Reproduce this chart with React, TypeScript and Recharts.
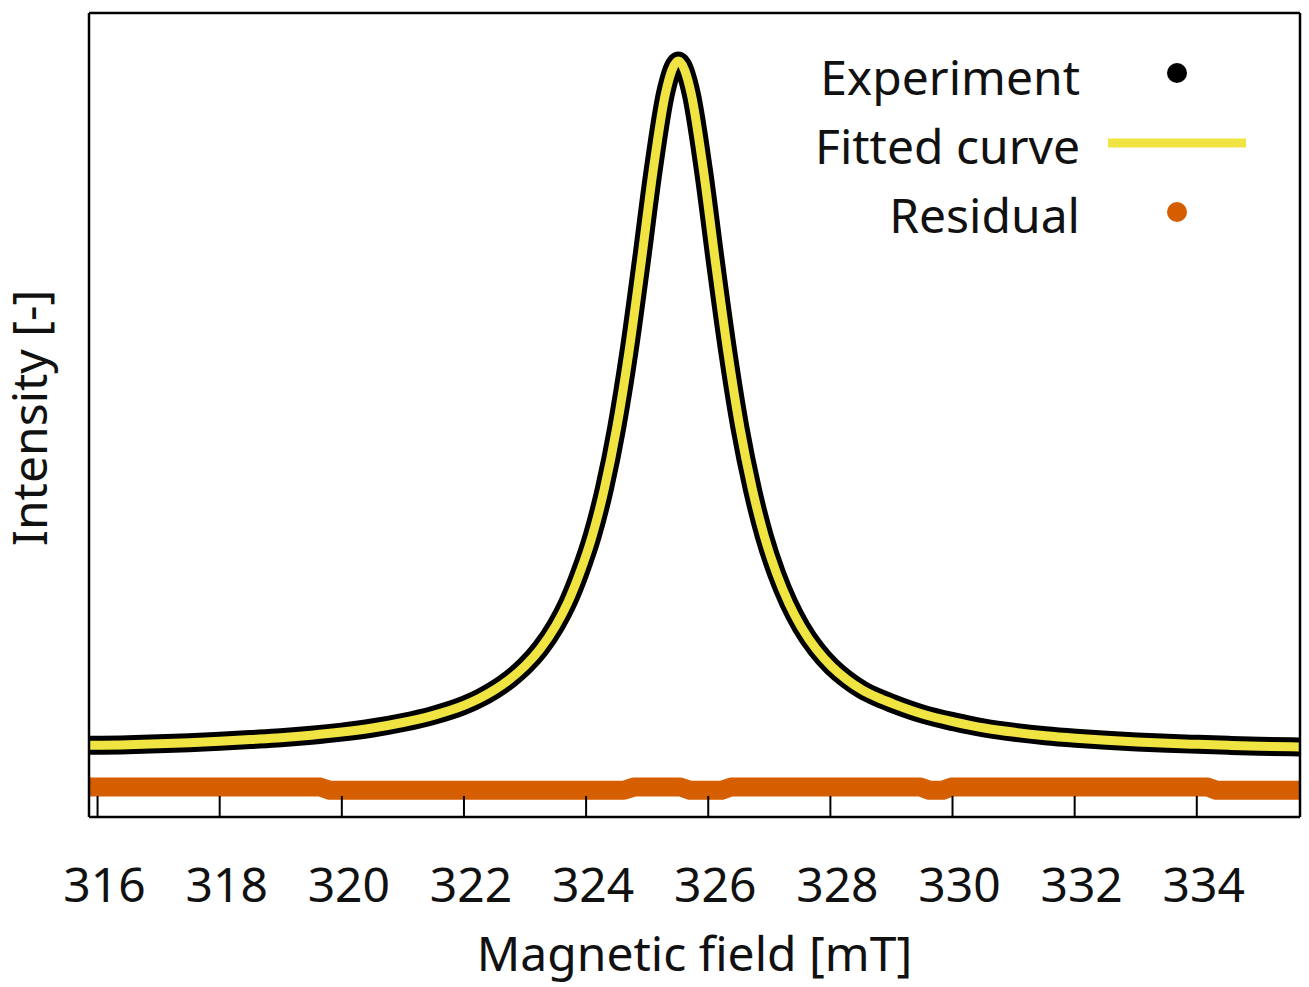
import React from "react";
import {
  ComposedChart,
  Line,
  XAxis,
  YAxis,
  Legend,
} from "recharts";

// magnetic field [mT] for the measured / fitted curve
const fieldMT = [
  315.86, 316.5, 317.0, 317.5, 318.0, 318.5, 319.0, 319.5, 320.0, 320.5,
  321.0, 321.5, 322.0, 322.25, 322.5, 322.75, 323.0, 323.25, 323.5, 323.7,
  323.9, 324.1, 324.3, 324.5, 324.7, 324.9, 325.1, 325.3, 325.51, 325.72,
  325.92, 326.12, 326.32, 326.52, 326.72, 326.92, 327.12, 327.32, 327.52, 327.77,
  328.02, 328.27, 328.52, 328.77, 329.02, 329.52, 330.02, 330.52, 331.02, 331.52,
  332.02, 332.52, 333.02, 333.52, 334.02, 334.52, 335.02, 335.69,
];
const experiment = [
  0.0044, 0.0052, 0.0066, 0.0082, 0.0101, 0.0127, 0.0154, 0.019, 0.0236, 0.0295,
  0.0375, 0.048, 0.0625, 0.0725, 0.085, 0.1005, 0.12, 0.145, 0.178, 0.212,
  0.256, 0.309, 0.378, 0.466, 0.576, 0.706, 0.842, 0.953, 1.0, 0.953,
  0.842, 0.706, 0.577, 0.466, 0.378, 0.308, 0.254, 0.211, 0.177, 0.144,
  0.119, 0.1, 0.085, 0.074, 0.065, 0.0495, 0.0385, 0.0295, 0.0232, 0.0183,
  0.0146, 0.0116, 0.0092, 0.0073, 0.0057, 0.0043, 0.0031, 0.0018,
];
const fitted = [
  0.0044, 0.0052, 0.0066, 0.0082, 0.0101, 0.0127, 0.0154, 0.019, 0.0236, 0.0295,
  0.0375, 0.048, 0.0625, 0.0725, 0.085, 0.1005, 0.12, 0.145, 0.178, 0.212,
  0.256, 0.309, 0.378, 0.466, 0.576, 0.706, 0.842, 0.953, 1.0, 0.953,
  0.842, 0.706, 0.577, 0.466, 0.378, 0.308, 0.254, 0.211, 0.177, 0.144,
  0.119, 0.1, 0.085, 0.074, 0.065, 0.0495, 0.0385, 0.0295, 0.0232, 0.0183,
  0.0146, 0.0116, 0.0092, 0.0073, 0.0057, 0.0043, 0.0031, 0.0018,
];

const residualField = [
  315.86, 319.65, 319.8, 324.62, 324.78, 325.55, 325.7, 326.22, 326.37, 329.48,
  329.62, 329.84, 329.98, 334.18, 334.32, 335.69,
];
const residual = [
  -0.0565, -0.0565, -0.0611, -0.0611, -0.0565, -0.0565, -0.0611, -0.0611, -0.0565,
  -0.0565, -0.0611, -0.0611, -0.0565, -0.0565, -0.0611, -0.0611,
];

const xTicks = [316, 318, 320, 322, 324, 326, 328, 330, 332, 334];
const legendNames = ["Experiment", "Fitted curve", "Residual"];

const FONT = "'Noto Sans', 'Open Sans', sans-serif";
const BLACK = "#000000";
const YELLOW = "#f0e442";
const ORANGE = "#d55e00";

const expData = fieldMT.map((x, i) => ({ x, y: experiment[i] }));
const fitData = fieldMT.map((x, i) => ({ x, y: fitted[i] }));
const resData = residualField.map((x, i) => ({ x, y: residual[i] }));

function BottomTick(props: any) {
  const { x, y, payload } = props;
  return (
    <g>
      <line x1={x} x2={x} y1={y} y2={y - 21} stroke={BLACK} strokeWidth={2} />
      <text x={x + 7} y={y + 85} textAnchor="middle" fontSize={48} fontFamily={FONT} fill="#111">
        {payload.value}
      </text>
    </g>
  );
}

function TopTick(props: any) {
  const { x, y } = props;
  return <line x1={x} x2={x} y1={y} y2={y + 21} stroke={BLACK} strokeWidth={2} />;
}

function LegendBox() {
  const rows = [95, 164, 233];
  return (
    <svg width={1309} height={987} style={{ position: "absolute", left: 0, top: 0 }}>
      {legendNames.map((name, i) => (
        <text key={name} x={1080} y={rows[i]} textAnchor="end" fontSize={48} fontFamily={FONT} fill="#111">
          {name}
        </text>
      ))}
      <circle cx={1177} cy={73} r={10} fill={BLACK} />
      <line x1={1108} x2={1246} y1={143} y2={143} stroke={YELLOW} strokeWidth={9} />
      <circle cx={1177} cy={212} r={10} fill={ORANGE} />
    </svg>
  );
}

export default function App() {
  return (
    <div style={{ position: "absolute", left: 0, top: 0, background: "#fff" }}>
      <ComposedChart width={1309} height={987} margin={{ top: 12, right: 8, bottom: 50, left: 88 }}>
        <XAxis
          dataKey="x"
          type="number"
          domain={[315.86, 335.69]}
          allowDataOverflow
          ticks={xTicks}
          interval={0}
          height={120}
          tickSize={0}
          tickMargin={0}
          tickLine={false}
          axisLine={{ stroke: BLACK, strokeWidth: 2.5 }}
          tick={<BottomTick />}
          label={{
            content: (p: any) => {
              const vb = p.viewBox || { x: 89, y: 817, width: 1211 };
              return (
                <text x={vb.x + vb.width / 2} y={971} textAnchor="middle" fontSize={48} fontFamily={FONT} fill="#111">
                  Magnetic field [mT]
                </text>
              );
            },
          }}
        />
        <XAxis
          xAxisId="top"
          orientation="top"
          type="number"
          domain={[315.86, 335.69]}
          allowDataOverflow
          ticks={xTicks}
          interval={0}
          height={1}
          tickSize={0}
          tickMargin={0}
          tickLine={false}
          axisLine={{ stroke: BLACK, strokeWidth: 2.5 }}
          tick={<TopTick />}
        />
        <YAxis
          type="number"
          domain={[-0.1, 1.07]}
          allowDataOverflow
          width={1}
          tick={false}
          tickLine={false}
          axisLine={{ stroke: BLACK, strokeWidth: 2.5 }}
          label={{
            content: () => (
              <g transform="translate(47, 418) rotate(-90)">
                <text x={0} y={0} textAnchor="middle" fontSize={48} fontFamily={FONT} fill="#111">
                  Intensity [-]
                </text>
              </g>
            ),
          }}
        />
        <YAxis
          yAxisId="right"
          orientation="right"
          type="number"
          domain={[-0.1, 1.07]}
          allowDataOverflow
          width={1}
          tick={false}
          tickLine={false}
          axisLine={{ stroke: BLACK, strokeWidth: 2.5 }}
        />
        <Line
          data={resData}
          dataKey="y"
          name="Residual"
          type="linear"
          stroke={ORANGE}
          strokeWidth={19}
          strokeLinecap="round"
          strokeLinejoin="round"
          dot={false}
          isAnimationActive={false}
        />
        <Line
          data={expData}
          dataKey="y"
          name="Experiment"
          type="monotone"
          stroke={BLACK}
          strokeWidth={19}
          strokeLinecap="round"
          strokeLinejoin="round"
          dot={false}
          isAnimationActive={false}
        />
        <Line
          data={fitData}
          dataKey="y"
          name="Fitted curve"
          type="monotone"
          stroke={YELLOW}
          strokeWidth={9}
          strokeLinecap="round"
          strokeLinejoin="round"
          dot={false}
          isAnimationActive={false}
        />
        <Legend
          layout="vertical"
          align="center"
          verticalAlign="middle"
          wrapperStyle={{ left: 0, top: 0, width: 1309, height: 987, pointerEvents: "none" }}
          content={() => <LegendBox />}
        />
      </ComposedChart>
    </div>
  );
}
